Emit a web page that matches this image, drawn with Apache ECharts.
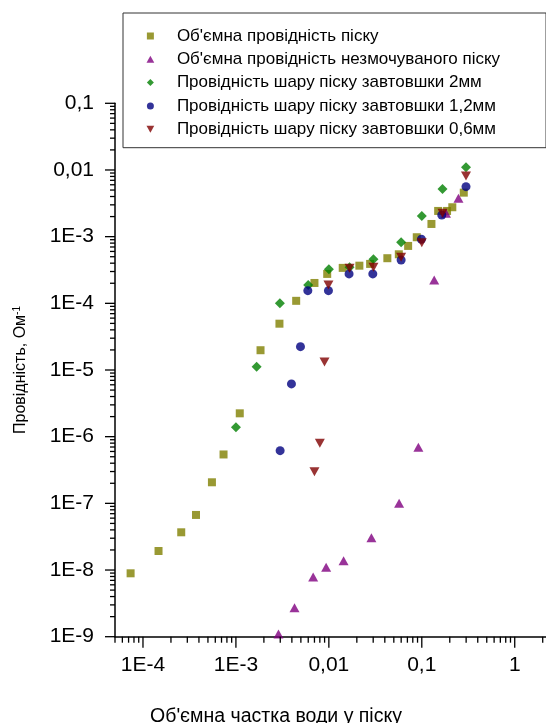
<!DOCTYPE html>
<html>
<head>
<meta charset="utf-8">
<script src="https://cdn.jsdelivr.net/npm/echarts@6/dist/echarts.min.js"></script>
<style>
  html, body { margin: 0; padding: 0; background: #fff; }
  #chart { width: 546px; height: 723px; }
</style>
</head>
<body>
<div id="chart"></div>
<script>
// Об'ємна провідність піску
var bulkX = [7.36e-5, 1.47e-4, 2.58e-4, 3.72e-4, 5.52e-4, 7.36e-4, 1.10e-3, 1.84e-3, 2.94e-3, 4.45e-3,
             7.0e-3, 9.6e-3, 1.41e-2, 2.13e-2, 2.78e-2, 4.26e-2, 5.66e-2, 7.13e-2, 8.83e-2, 0.127,
             0.150, 0.187, 0.213, 0.283];
var bulkY = [8.93e-9, 1.93e-8, 3.68e-8, 6.70e-8, 2.07e-7, 5.41e-7, 2.24e-6, 1.98e-5, 4.95e-5, 1.09e-4,
             2.02e-4, 2.76e-4, 3.40e-4, 3.67e-4, 3.90e-4, 4.75e-4, 5.44e-4, 7.26e-4, 9.80e-4, 1.55e-3,
             2.43e-3, 2.43e-3, 2.76e-3, 4.57e-3];
// Об'ємна провідність незмочуваного піску
var dryX = [2.87e-3, 4.27e-3, 6.78e-3, 9.35e-3, 1.44e-2, 2.87e-2, 5.70e-2, 9.19e-2, 0.136, 0.182, 0.248];
var dryY = [1.10e-9, 2.72e-9, 7.87e-9, 1.10e-8, 1.38e-8, 3.05e-8, 1.0e-7, 6.93e-7, 2.24e-4, 2.24e-3, 3.77e-3];
// шар 2мм
var l2X = [1.0e-3, 1.67e-3, 2.97e-3, 5.99e-3, 1.0e-2, 1.67e-2, 3.02e-2, 5.99e-2, 0.1, 0.167, 0.299];
var l2Y = [1.38e-6, 1.12e-5, 1.0e-4, 1.88e-4, 3.24e-4, 3.47e-4, 4.58e-4, 8.24e-4, 2.04e-3, 5.19e-3, 1.10e-2];
// шар 1,2мм
var l12X = [2.99e-3, 3.96e-3, 4.95e-3, 5.94e-3, 9.9e-3, 1.65e-2, 2.97e-2, 5.99e-2, 9.9e-2, 0.164, 0.299];
var l12Y = [6.17e-7, 6.18e-6, 2.24e-5, 1.55e-4, 1.55e-4, 2.76e-4, 2.76e-4, 4.47e-4, 9.14e-4, 2.11e-3, 5.62e-3];
// шар 0,6мм
var l06X = [7.0e-3, 8.0e-3, 8.98e-3, 9.9e-3, 1.67e-2, 3.02e-2, 5.99e-2, 0.1, 0.167, 0.299];
var l06Y = [2.99e-7, 7.96e-7, 1.32e-5, 1.88e-4, 3.36e-4, 3.47e-4, 4.91e-4, 8.13e-4, 2.24e-3, 8.13e-3];

var names = [
    "Об'ємна провідність піску",
    "Об'ємна провідність незмочуваного піску",
    'Провідність шару піску завтовшки 2мм',
    'Провідність шару піску завтовшки 1,2мм',
    'Провідність шару піску завтовшки 0,6мм'
];
// legend icons as paths so they keep their proportions
var icons = [
    'path://M0,0L10,0L10,10L0,10Z',
    'path://M5,0L10,9L0,9Z',
    'path://M5,0L10,5L5,10L0,5Z',
    'circle',
    'path://M0,0L10,0L5,9Z'
];

var xTickValues = [1e-4, 1e-3, 0.01, 0.1, 1];
var xTickLabels = ['1E-4', '1E-3', '0,01', '0,1', '1'];
var yTickValues = [1e-9, 1e-8, 1e-7, 1e-6, 1e-5, 1e-4, 1e-3, 0.01, 0.1];
var yTickLabels = ['1E-9', '1E-8', '1E-7', '1E-6', '1E-5', '1E-4', '1E-3', '0,01', '0,1'];

var xMin = 5e-5, xMax = 2.17, yMin = 1e-9, yMax = 0.1;
var font = "'Liberation Sans', Arial, sans-serif";

function zip(xs, ys) {
    return xs.map(function (x, i) { return [x, ys[i]]; });
}

function labelFor(values, labels) {
    return function (v) {
        for (var i = 0; i < values.length; i++) {
            if (Math.abs(Math.log10(v) - Math.log10(values[i])) < 1e-6) return labels[i];
        }
        return '';
    };
}

// log ticks (1..9 per decade) for the axes
function logTicks(lo, hi) {
    var out = [];
    for (var k = Math.floor(Math.log10(lo)); k <= Math.ceil(Math.log10(hi)); k++) {
        for (var m = 1; m <= 9; m++) {
            var v = m * Math.pow(10, k);
            if (v >= lo * 0.9999 && v <= hi * 1.0001) out.push([v, m === 1 ? 1 : 0]);
        }
    }
    return out;
}

var myChart = echarts.init(document.getElementById('chart'));

var option = {
    animation: false,
    textStyle: { fontFamily: font },
    grid: { left: 115, right: 0, top: 103.3, bottom: 86.3, containLabel: false, outerBoundsMode: 'none' },
    legend: {
        orient: 'vertical',
        left: 123,
        top: 13,
        padding: [14.5, 46, 10, 23.5],
        borderColor: '#333',
        borderWidth: 1,
        backgroundColor: '#fff',
        itemWidth: 43,
        itemHeight: 7,
        itemGap: 6.3,
        symbolKeepAspect: true,
        selectedMode: false,
        data: names.map(function (n, i) { return { name: n, icon: icons[i] }; }),
        textStyle: { fontFamily: font, fontSize: 17, lineHeight: 17, color: '#000' }
    },
    xAxis: {
        type: 'log',
        logBase: 10,
        min: xMin,
        max: xMax,
        splitLine: { show: false },
        axisTick: { show: false },
        axisLine: { lineStyle: { color: '#000', width: 1.5 } },
        axisLabel: {
            color: '#000', fontSize: 21, fontFamily: font, margin: 18,
            showMinLabel: false, showMaxLabel: false,
            formatter: labelFor(xTickValues, xTickLabels)
        },
        name: "Об'ємна частка води у піску",
        nameLocation: 'middle',
        nameGap: 70,
        nameTextStyle: { color: '#000', fontSize: 19.5, fontFamily: font, padding: [0, 109, 0, 0] }
    },
    yAxis: {
        type: 'log',
        logBase: 10,
        min: yMin,
        max: yMax,
        splitNumber: 8,
        splitLine: { show: false },
        axisTick: { show: false },
        axisLine: { lineStyle: { color: '#000', width: 1.5 } },
        axisLabel: {
            color: '#000', fontSize: 21, fontFamily: font, margin: 21,
            formatter: labelFor(yTickValues, yTickLabels)
        },
        name: '{t|Провідність, Ом}{s|-1}',
        nameLocation: 'middle',
        nameRotate: 90,
        nameGap: 85,
        nameTextStyle: {
            color: '#000', fontFamily: font,
            rich: {
                t: { fontSize: 16, fontFamily: font, color: '#000', lineHeight: 18 },
                s: { fontSize: 10, fontFamily: font, color: '#000', verticalAlign: 'top', lineHeight: 18 }
            }
        }
    },
    series: [
        {
            name: names[0], type: 'scatter', symbol: 'rect', symbolSize: 8,
            itemStyle: { color: '#808000' }, data: zip(bulkX, bulkY)
        },
        {
            name: names[1], type: 'scatter', symbol: 'triangle', symbolSize: [10, 9],
            itemStyle: { color: '#800080' }, data: zip(dryX, dryY)
        },
        {
            name: names[2], type: 'scatter', symbol: 'diamond', symbolSize: 10,
            itemStyle: { color: '#008000' }, data: zip(l2X, l2Y)
        },
        {
            name: names[3], type: 'scatter', symbol: 'circle', symbolSize: 9,
            itemStyle: { color: '#000080' }, data: zip(l12X, l12Y)
        },
        {
            name: names[4], type: 'scatter', symbol: 'triangle', symbolRotate: 180, symbolSize: [10, 9],
            itemStyle: { color: '#800000' }, data: zip(l06X, l06Y)
        },
        {
            // x axis ticks
            type: 'custom', silent: true, z: 5,
            data: logTicks(xMin, xMax).map(function (t) { return [t[0], yMin, t[1]]; }),
            renderItem: function (params, api) {
                var p = api.coord([api.value(0), yMin]);
                var len = api.value(2) ? 11 : 6;
                return {
                    type: 'line',
                    shape: { x1: p[0], y1: p[1], x2: p[0], y2: p[1] + len },
                    style: { stroke: '#000', lineWidth: 1.3 }
                };
            }
        },
        {
            // y axis ticks
            type: 'custom', silent: true, z: 5,
            data: logTicks(yMin, yMax).map(function (t) { return [xMin, t[0], t[1]]; }),
            renderItem: function (params, api) {
                var p = api.coord([xMin, api.value(1)]);
                var len = api.value(2) ? 10 : 5;
                return {
                    type: 'line',
                    shape: { x1: p[0] - len, y1: p[1], x2: p[0], y2: p[1] },
                    style: { stroke: '#000', lineWidth: 1.3 }
                };
            }
        }
    ]
};

myChart.setOption(option);
</script>
</body>
</html>
